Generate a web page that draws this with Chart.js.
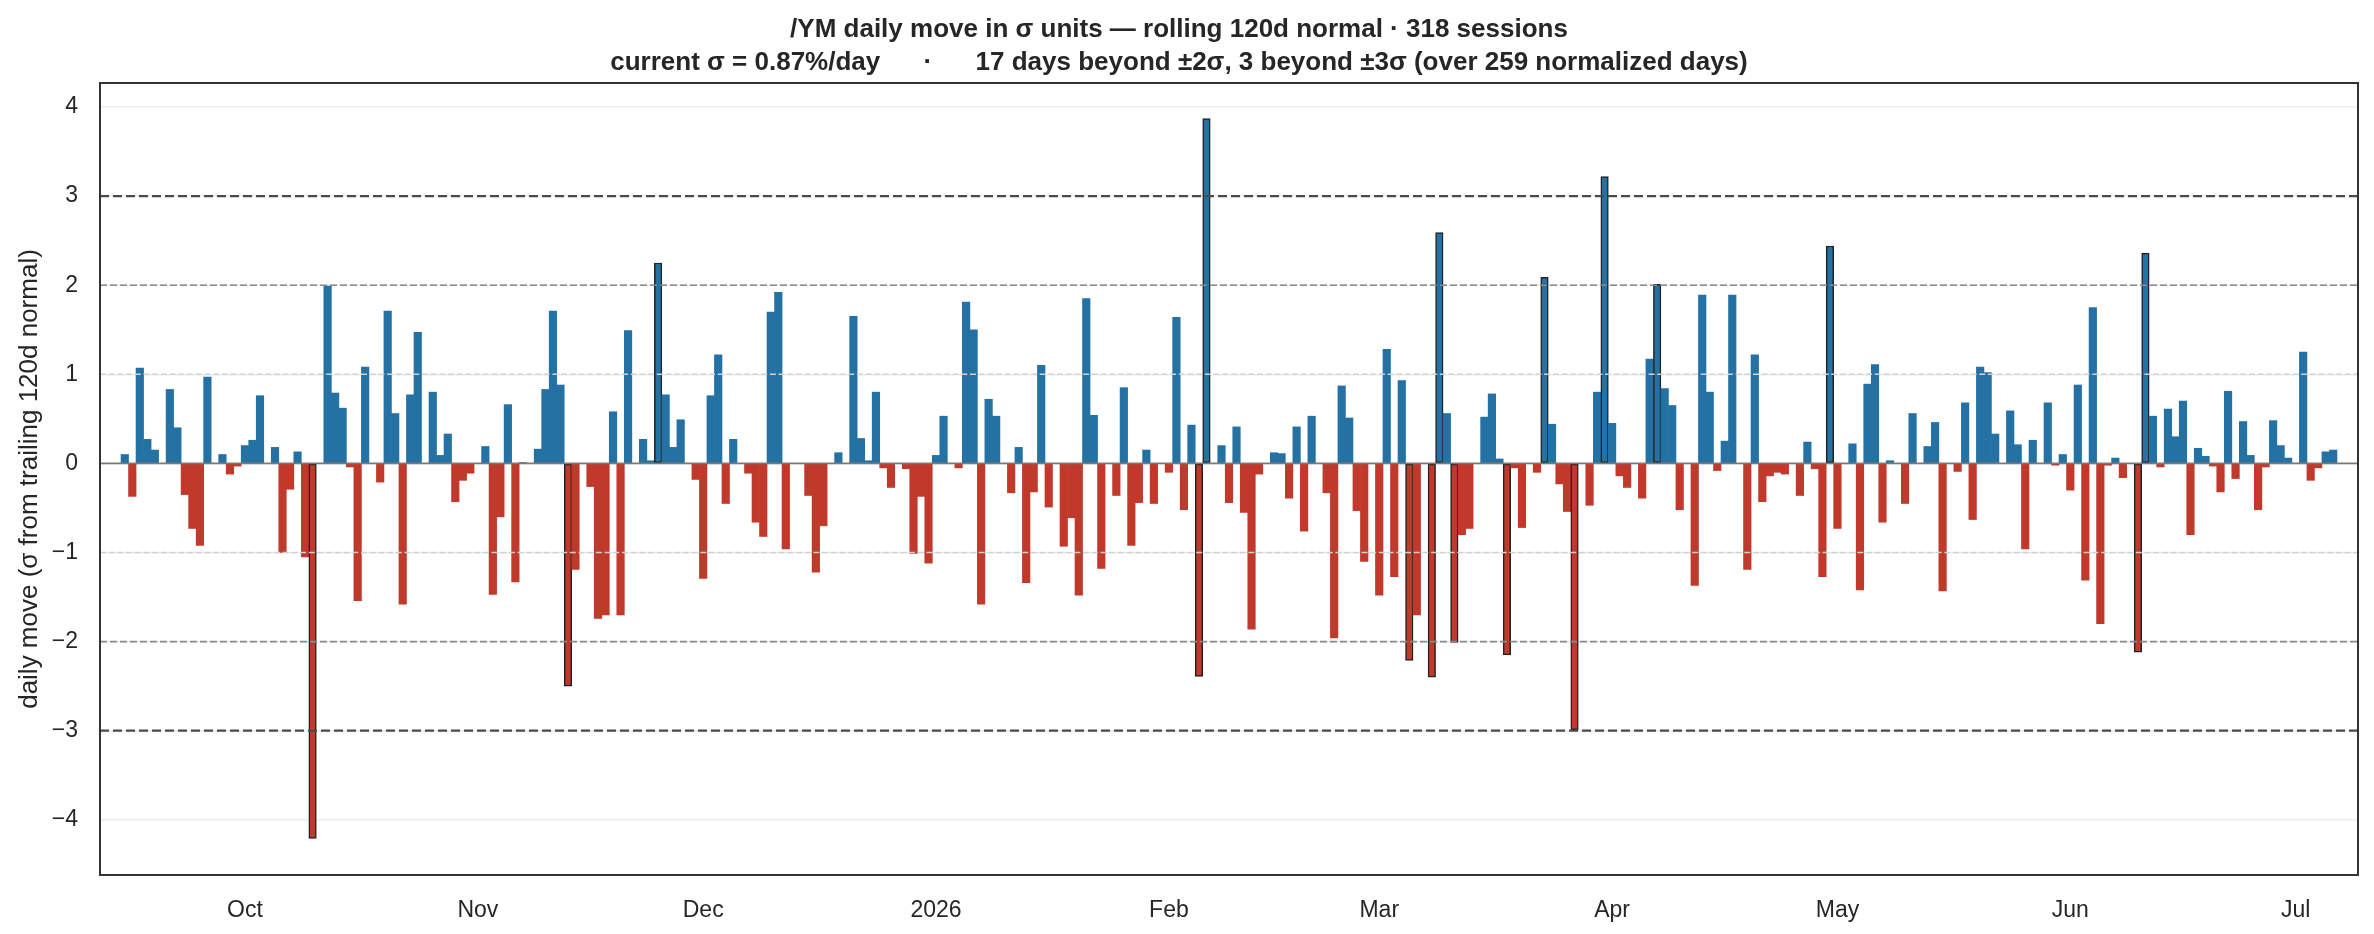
<!DOCTYPE html>
<html>
<head>
<meta charset="utf-8">
<title>/YM daily move in sigma units</title>
<script src="https://cdn.jsdelivr.net/npm/chart.js@4.4.1/dist/chart.umd.min.js"></script>
<style>
  html, body { margin:0; padding:0; background:#fff; }
</style>
</head>
<body>
<canvas id="myChart" width="2374" height="934"></canvas>
<script>
// first plotted session, every entry below is one calendar day from here (null = no session)
const startDate = '2025-09-15';

// daily move in sigma units, one row per week (Mon .. Sun)
const moves = [
   0.10, -0.37,  1.07,  0.27,  0.15,  null,  0.83,
   0.40, -0.35, -0.73, -0.92,  0.97,  null,  0.10,
  -0.12, -0.03,  0.20,  0.26,  0.76,  null,  0.18,
  -1.00, -0.29,  0.13, -1.05, -4.21,  null,  1.99,
   0.79,  0.62, -0.04, -1.54,  1.08,  null, -0.21,
   1.71,  0.56, -1.58,  0.77,  1.47,  null,  0.80,
   0.09,  0.33, -0.43, -0.19, -0.11,  null,  0.19,
  -1.47, -0.60,  0.66, -1.33,  0.01,  null,  0.16,
   0.83,  1.71,  0.88, -2.50, -1.19,  null, -0.26,
  -1.74, -1.70,  0.58, -1.70,  1.49,  null,  0.27,
   0.03,  2.25,  0.77,  0.18,  0.49,  null, -0.18,
  -1.29,  0.76,  1.22, -0.45,  0.27,  null, -0.11,
  -0.66, -0.82,  1.70,  1.92, -0.96,  null,  null,
  -0.36, -1.22, -0.70,  null,  0.12,  null,  1.65,
   0.28,  0.03,  0.80, -0.05, -0.27,  null, -0.06,
  -1.01, -0.37, -1.12,  0.09,  0.53,  null, -0.05,
   1.81,  1.50, -1.58,  0.72,  0.53,  null, -0.33,
   0.18, -1.34, -0.32,  1.10, -0.49,  null, -0.93,
  -0.61, -1.48,  1.85,  0.54, -1.18,  null, -0.36,
   0.85, -0.92, -0.44,  0.15, -0.45,  null, -0.10,
   1.64, -0.52,  0.43, -2.39,  3.87,  null,  0.20,
  -0.44,  0.41, -0.55, -1.86, -0.12,  null,  0.12,
   0.11, -0.39,  0.41, -0.76,  0.53,  null, -0.33,
  -1.96,  0.87,  0.51, -0.53, -1.10,  null, -1.48,
   1.28, -1.27,  0.93, -2.21, -1.70,  null, -2.40,
   2.59,  0.56, -2.01, -0.80, -0.73,  null,  0.52,
   0.78,  0.05, -2.15, -0.05, -0.72,  null, -0.10,
   2.09,  0.44, -0.23, -0.54, -2.99,  null, -0.47,
   0.80,  3.22,  0.45, -0.14, -0.27,  null, -0.39,
   1.17,  2.01,  0.84,  0.65, -0.52,  null, -1.37,
   1.89,  0.80, -0.08,  0.25,  1.89,  null, -1.19,
   1.22, -0.43, -0.14, -0.10, -0.12,  null, -0.36,
   0.24, -0.06, -1.27,  2.44, -0.73,  null,  0.22,
  -1.42,  0.89,  1.11, -0.66,  0.03,  null, -0.45,
   0.56,  null,  0.19,  0.46, -1.43,  null, -0.09,
   0.68, -0.63,  1.08,  1.02,  0.33,  null,  0.59,
   0.21, -0.96,  0.26,  null,  0.68, -0.02,  0.10,
  -0.30,  0.88, -1.31,  1.75, -1.80, -0.02,  0.06,
  -0.16,  null, -2.12,  2.36,  0.53, -0.04,  0.61,
   0.30,  0.70, -0.80,  0.17,  0.08, -0.03, -0.32,
   0.81, -0.17,  0.47,  0.09, -0.52, -0.04,  0.48,
   0.20,  0.06,  null,  1.25, -0.19, -0.05,  0.13,
   0.15
];

// x tick marks (month starts) and their labels
const monthStarts = ['2025-10-01', '2025-11-01', '2025-12-01', '2026-01-01', '2026-02-01',
                     '2026-03-01', '2026-04-01', '2026-05-01', '2026-06-01', '2026-07-01'];
const monthLabels = ['Oct', 'Nov', 'Dec', '2026', 'Feb', 'Mar', 'Apr', 'May', 'Jun', 'Jul'];

// y ticks and sigma reference lines
const yTicks = [-4, -3, -2, -1, 0, 1, 2, 3, 4];
const refLevels = [-3, -2, -1, 0, 1, 2, 3];

const titleLines = [
    '/YM daily move in σ units — rolling 120d normal · 318 sessions',
    'current σ = 0.87%/day      ·      17 days beyond ±2σ, 3 beyond ±3σ (over 259 normalized days)'
];

const DAY = 86400000;
const dayOf = s => Math.round((Date.parse(s) - Date.parse(startDate)) / DAY);
const tickDays = monthStarts.map(dayOf);

const barPoints = [];
moves.forEach((v, i) => { if (v !== null) barPoints.push({x: i, y: v}); });

const xMin = -3.3, xMax = 297.3;

const refStyle = {
    3: {color: '#4a4a4a', width: 2.2, dash: [9, 4]},
    2: {color: '#8a8a8a', width: 1.6, dash: [7, 3]},
    1: {color: '#d2d2d2', width: 1.5, dash: [6, 2.7]},
    0: {color: '#7a7a7a', width: 1.7, dash: []}
};
const refSets = refLevels.map(lv => {
    const st = refStyle[Math.abs(lv)];
    return {
        type: 'line',
        data: [{x: xMin, y: lv}, {x: xMax, y: lv}],
        borderColor: st.color,
        borderWidth: st.width,
        borderDash: st.dash,
        pointRadius: 0,
        order: 1
    };
});

// frame around the plot area
const framePlugin = {
    id: 'frame',
    afterDraw(chart) {
        const {ctx, chartArea: a} = chart;
        ctx.save();
        ctx.strokeStyle = '#333';
        ctx.lineWidth = 2;
        ctx.strokeRect(a.left, a.top, a.right - a.left, a.bottom - a.top);
        ctx.restore();
    }
};

Chart.defaults.font.family = '"Liberation Sans", Arial, sans-serif';
Chart.defaults.font.size = 23;
Chart.defaults.color = '#262626';

let myChart = document.getElementById('myChart').getContext('2d');

let sigmaChart = new Chart(myChart, {
    type: 'bar',
    data: {
        datasets: [{
            data: barPoints,
            backgroundColor: c => (c.raw && c.raw.y >= 0) ? '#2471a3' : '#c0392b',
            borderColor: '#222',
            borderWidth: c => (c.raw && Math.abs(c.raw.y) >= 2) ? 1.5 : 0,
            borderSkipped: false,
            barPercentage: 1,
            categoryPercentage: 1,
            order: 2
        }].concat(refSets)
    },
    options: {
        responsive: false,
        animation: false,
        layout: {padding: {left: 0, right: 16, top: 0, bottom: 0}},
        plugins: {
            legend: {display: false},
            tooltip: {enabled: false},
            title: {
                display: true,
                text: titleLines,
                color: '#262626',
                font: {size: 26, weight: 'bold', lineHeight: '33px'},
                padding: {top: 13, bottom: 4}
            }
        },
        scales: {
            x: {
                type: 'linear',
                min: xMin,
                max: xMax,
                offset: false,
                grid: {display: false},
                border: {display: false},
                afterBuildTicks: s => { s.ticks = tickDays.map(v => ({value: v})); },
                afterFit: s => { s.height = 59; },
                ticks: {
                    autoSkip: false,
                    maxRotation: 0,
                    padding: 14,
                    callback: (v, i) => monthLabels[i]
                }
            },
            y: {
                min: -4.62,
                max: 4.27,
                afterBuildTicks: s => { s.ticks = yTicks.map(v => ({value: v})); },
                afterFit: s => { s.width = 100; },
                grid: {color: '#ececec', lineWidth: 1.5, drawTicks: false},
                border: {display: false},
                ticks: {
                    padding: 22,
                    callback: v => (v < 0 ? '\u2212' + Math.abs(v) : String(v))
                },
                title: {
                    display: true,
                    text: 'daily move (σ from trailing 120d normal)',
                    font: {size: 26},
                    padding: {top: 14, bottom: 0}
                }
            }
        }
    },
    plugins: [framePlugin]
});
</script>
</body>
</html>
